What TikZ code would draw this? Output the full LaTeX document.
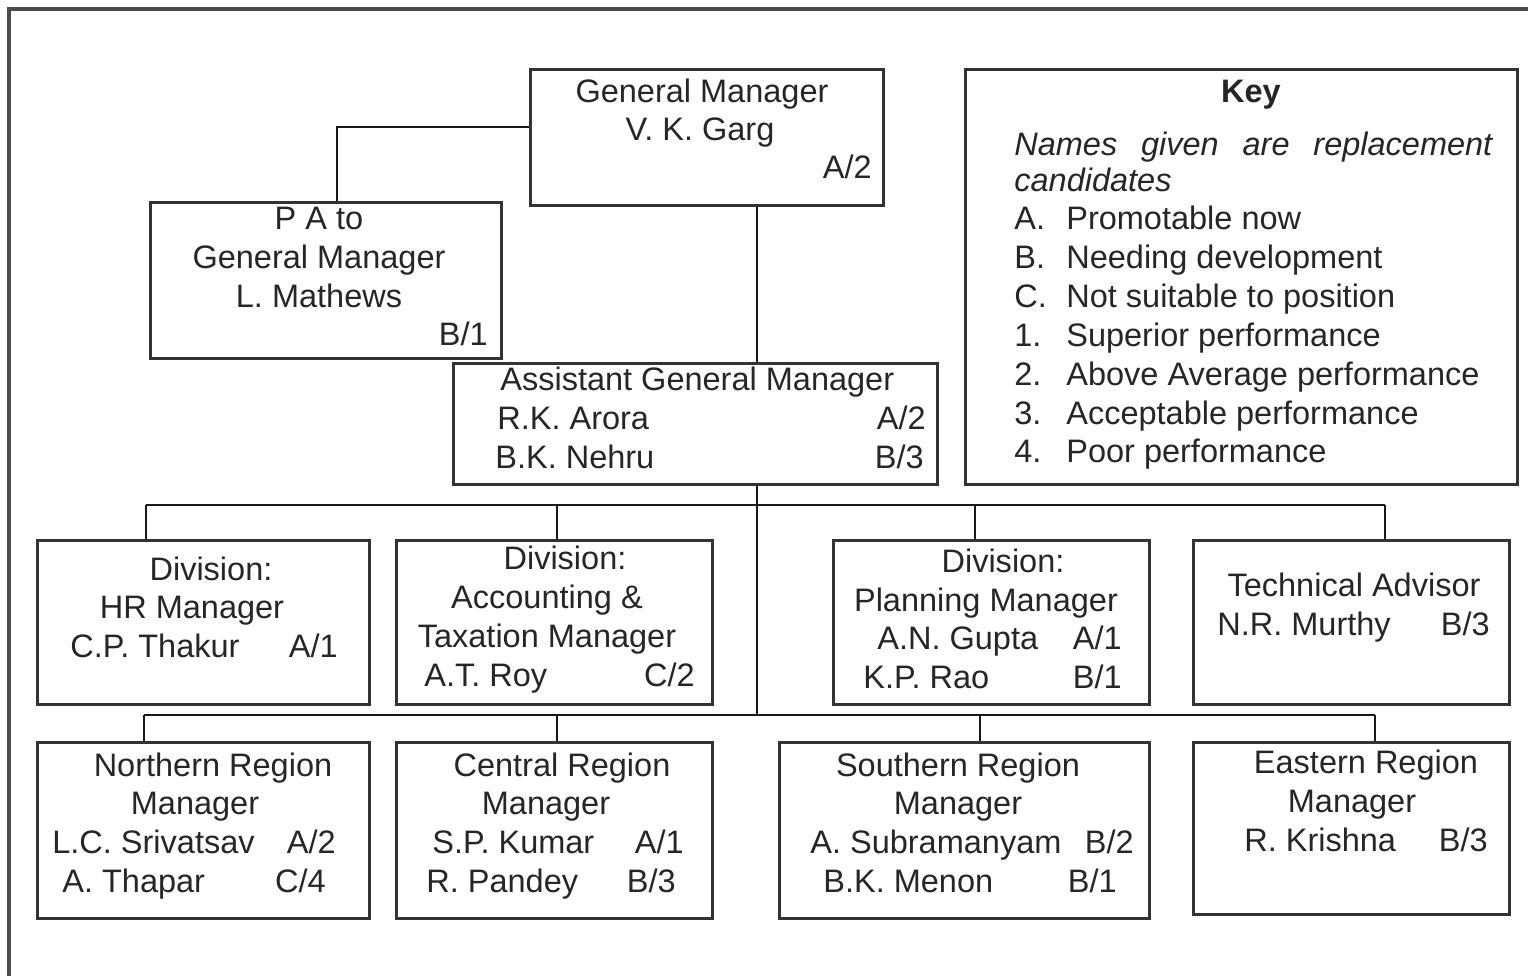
\documentclass[tikz,border=0pt]{standalone}
\usepackage{fontspec}
\setmainfont{Liberation Sans}
\newdimen\px \px=0.02cm

\begin{document}
\begin{tikzpicture}[x=0.02cm, y=-0.02cm,
    box/.style={draw=black!80, line width=1.7pt, inner sep=0pt, anchor=north west},
    wire/.style={draw=black!90, line width=1.5pt},
    txt/.style={inner sep=0pt, font=\fontsize{18.5}{22}\selectfont, text=black!85}]
    \useasboundingbox (0,0) rectangle (1528,976);
    % frame, only top and left edge show
    \draw[line width=2.2pt, black!70] (9,976) -- (9,9) -- (1528,9);

    % boxes: name/left/top/width/height
    \foreach \n/\x/\y/\w/\h in {gm/529/68/353/136, pa/149/201/351/156, agm/452/362/484/121, key/964/68/552/415,
        hr/36/539/332/164, acc/395/539/316/164, plan/832/539/316/164, tech/1192/539/316/164,
        nreg/36/741/332/176, creg/395/741/316/176, sreg/778/741/370/176, ereg/1192/741/316/172}
        \node[box, minimum width=\w\px, minimum height=\h\px] (\n) at (\x,\y) {};

    \coordinate (paj) at (337,127);
    \coordinate (spine) at (757,0);
    \coordinate (dbl) at (146,505);
    \coordinate (dbr) at (1385,505);
    \coordinate (rbl) at (144,715);
    \coordinate (rbr) at (1375,715);

    \draw[wire] (gm.west |- paj) -| (pa.north -| paj);
    \draw[wire] (gm.south -| spine) -- (agm.north -| spine);
    \draw[wire] (agm.south -| spine) -- (spine |- rbl);
    \draw[wire] (dbl) -- (dbr);
    \draw[wire] (rbl) -- (rbr);
    \foreach \n/\x in {hr/146, acc/557, plan/975, tech/1385}
        \draw[wire] (dbl -| \x,0) -- (\n.north -| \x,0);
    \foreach \n/\x in {nreg/144, creg/557, sreg/980, ereg/1375}
        \draw[wire] (rbl -| \x,0) -- (\n.north -| \x,0);

    % general manager and P A
    \node[txt, anchor=base] (gmt) at (702,103) {General Manager};
    \node[txt, anchor=base] (gmn) at (700,141) {V. K. Garg};
    \node[txt, anchor=base east] (gmg) at (872,179) {A/2};
    \node[txt, anchor=base] (pat1) at (319,230) {P A to};
    \node[txt, anchor=base] (pat2) at (319,269) {General Manager};
    \node[txt, anchor=base] (pan) at (319,308) {L. Mathews};
    \node[txt, anchor=base east] (pag) at (488,346) {B/1};

    \node[txt, anchor=base west] (agmt) at (500,391) {Assistant General Manager};
    \node[txt, anchor=base west] (agmn1) at (497,429) {R.K. Arora};
    \node[txt, anchor=base east] (agmg1) at (926,429) {A/2};
    \node[txt, anchor=base west] (agmn2) at (495,468) {B.K. Nehru};
    \node[txt, anchor=base east] (agmg2) at (924,468) {B/3};

    % key
    \node[txt, anchor=base] (keyt) at (1251,103) {\bfseries Key};
    \node[txt, anchor=base west] (keyi1) at (1014,156) {\itshape\makebox[478\px][s]{Names given are replacement}};
    \node[txt, anchor=base west] (keyi2) at (1014,192) {\itshape candidates};
    \foreach \l/\t [count=\i from 0] in {A./Promotable now, B./Needing development, C./Not suitable to position,
        1./Superior performance, 2./Above Average performance, 3./Acceptable performance, 4./Poor performance}
        \node[txt, anchor=base west] (kl\i) at (1014,230+38.8*\i) {\makebox[52\px][l]{\l}\t};

    % divisions
    \node[txt, anchor=base] (hrt1) at (211,580) {Division:};
    \node[txt, anchor=base] (hrt2) at (192,618) {HR Manager};
    \node[txt, anchor=base west] (hrn) at (70,657) {C.P. Thakur};
    \node[txt, anchor=base east] (hrg) at (338,657) {A/1};

    \node[txt, anchor=base] (acct1) at (565,569) {Division:};
    \node[txt, anchor=base] (acct2) at (547,608) {Accounting \&};
    \node[txt, anchor=base] (acct3) at (547,647) {Taxation Manager};
    \node[txt, anchor=base west] (accn) at (424,686) {A.T. Roy};
    \node[txt, anchor=base east] (accg) at (695,686) {C/2};

    \node[txt, anchor=base] (plant1) at (1003,572) {Division:};
    \node[txt, anchor=base] (plant2) at (986,611) {Planning Manager};
    \node[txt, anchor=base west] (plann1) at (877,649) {A.N. Gupta};
    \node[txt, anchor=base east] (plang1) at (1122,649) {A/1};
    \node[txt, anchor=base west] (plann2) at (863,688) {K.P. Rao};
    \node[txt, anchor=base east] (plang2) at (1122,688) {B/1};

    \node[txt, anchor=base] (techt) at (1354,596) {Technical Advisor};
    \node[txt, anchor=base west] (techn) at (1217,635) {N.R. Murthy};
    \node[txt, anchor=base east] (techg) at (1490,635) {B/3};

    % regions
    \node[txt, anchor=base] (nregt1) at (213,776) {Northern Region};
    \node[txt, anchor=base] (nregt2) at (195,814) {Manager};
    \node[txt, anchor=base west] (nregn1) at (52,853) {L.C. Srivatsav};
    \node[txt, anchor=base east] (nregg1) at (336,853) {A/2};
    \node[txt, anchor=base west] (nregn2) at (62,892) {A. Thapar};
    \node[txt, anchor=base east] (nregg2) at (326,892) {C/4};

    \node[txt, anchor=base] (cregt1) at (562,776) {Central Region};
    \node[txt, anchor=base] (cregt2) at (546,814) {Manager};
    \node[txt, anchor=base west] (cregn1) at (432,853) {S.P. Kumar};
    \node[txt, anchor=base east] (cregg1) at (684,853) {A/1};
    \node[txt, anchor=base west] (cregn2) at (426,892) {R. Pandey};
    \node[txt, anchor=base east] (cregg2) at (676,892) {B/3};

    \node[txt, anchor=base] (sregt1) at (958,776) {Southern Region};
    \node[txt, anchor=base] (sregt2) at (958,814) {Manager};
    \node[txt, anchor=base west] (sregn1) at (810,853) {A. Subramanyam};
    \node[txt, anchor=base east] (sregg1) at (1134,853) {B/2};
    \node[txt, anchor=base west] (sregn2) at (823,892) {B.K. Menon};
    \node[txt, anchor=base east] (sregg2) at (1117,892) {B/1};

    \node[txt, anchor=base] (eregt1) at (1366,773) {Eastern Region};
    \node[txt, anchor=base] (eregt2) at (1352,812) {Manager};
    \node[txt, anchor=base west] (eregn) at (1244,851) {R. Krishna};
    \node[txt, anchor=base east] (eregg) at (1488,851) {B/3};
\end{tikzpicture}
\end{document}
